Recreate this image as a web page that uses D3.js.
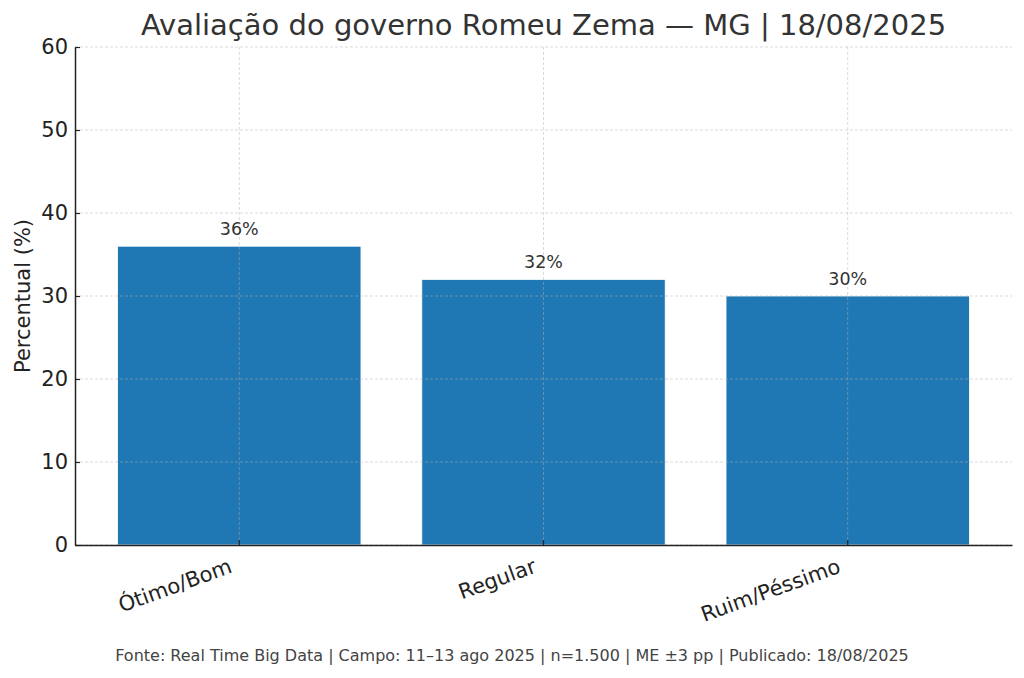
<!DOCTYPE html>
<html>
<head>
<meta charset="utf-8">
<script src="https://cdn.jsdelivr.net/npm/d3@7"></script>
<style>
  body { margin: 0; background: #fff; }
  text { font-family: "DejaVu Sans", sans-serif; }
</style>
</head>
<body>
<div id="chart"></div>
<script>
// data
const categories = ["Ótimo/Bom", "Regular", "Ruim/Péssimo"];
const values = [36, 32, 30];
const yTicks = [0, 10, 20, 30, 40, 50, 60];

const width = 1024, height = 678;
const margin = { top: 47, right: 12, bottom: 133, left: 75 };
const innerWidth = width - margin.left - margin.right;
const innerHeight = height - margin.top - margin.bottom;

const svg = d3.select("#chart")
  .append("svg")
    .attr("width", width)
    .attr("height", height);

// title
svg.append("text")
  .text("Avaliação do governo Romeu Zema — MG | 18/08/2025")
  .attr("x", margin.left + innerWidth / 2)
  .attr("y", 35)
  .attr("text-anchor", "middle")
  .attr("font-size", 29)
  .attr("fill", "#333");

const innerChart = svg.append("g")
  .attr("transform", `translate(${margin.left}, ${margin.top})`);

// scales
const xScale = d3.scaleBand()
  .domain(categories)
  .range([0, innerWidth])
  .paddingInner(0.2)
  .paddingOuter(0.14);

const yScale = d3.scaleLinear()
  .domain([0, 60])
  .range([innerHeight, 0]);

// bars
innerChart.selectAll("rect.bar")
  .data(values)
  .join("rect")
    .attr("class", "bar")
    .attr("x", (d, i) => xScale(categories[i]))
    .attr("y", d => yScale(d))
    .attr("width", xScale.bandwidth())
    .attr("height", d => innerHeight - yScale(d))
    .attr("fill", "#1f77b4")
    .attr("stroke", "#ffffff")
    .attr("stroke-width", 0.8);

// grid (drawn on top of bars)
innerChart.selectAll("line.hgrid")
  .data(yTicks)
  .join("line")
    .attr("class", "hgrid")
    .attr("x1", 0)
    .attr("x2", innerWidth)
    .attr("y1", d => yScale(d))
    .attr("y2", d => yScale(d))
    .attr("stroke", "#b0b0b0")
    .attr("stroke-opacity", 0.6)
    .attr("stroke-width", 0.8)
    .attr("stroke-dasharray", "3,2");

innerChart.selectAll("line.vgrid")
  .data(categories)
  .join("line")
    .attr("class", "vgrid")
    .attr("x1", d => xScale(d) + xScale.bandwidth() / 2)
    .attr("x2", d => xScale(d) + xScale.bandwidth() / 2)
    .attr("y1", 0)
    .attr("y2", innerHeight)
    .attr("stroke", "#b0b0b0")
    .attr("stroke-opacity", 0.6)
    .attr("stroke-width", 0.8)
    .attr("stroke-dasharray", "3,2");

// value labels
innerChart.selectAll("text.value")
  .data(values)
  .join("text")
    .attr("class", "value")
    .text(d => `${d}%`)
    .attr("x", (d, i) => xScale(categories[i]) + xScale.bandwidth() / 2)
    .attr("y", d => yScale(d) - 11)
    .attr("text-anchor", "middle")
    .attr("font-size", 17.5)
    .attr("fill", "#333");

// y axis (ticks pointing inward)
const leftAxis = d3.axisLeft(yScale)
  .tickValues(yTicks)
  .tickSizeInner(-5)
  .tickSizeOuter(0)
  .tickPadding(7);

const yAxisG = innerChart.append("g").call(leftAxis);
yAxisG.select(".domain").attr("stroke", "#222").attr("stroke-width", 1.5);
yAxisG.selectAll(".tick line").attr("stroke", "#222").attr("stroke-width", 1.2);
yAxisG.selectAll(".tick text")
  .attr("font-size", 21)
  .attr("fill", "#222")
  .attr("font-family", "DejaVu Sans, sans-serif");

// x axis
const bottomAxis = d3.axisBottom(xScale)
  .tickSizeInner(-5)
  .tickSizeOuter(0)
  .tickPadding(12);

const xAxisG = innerChart.append("g")
  .attr("transform", `translate(0, ${innerHeight})`)
  .call(bottomAxis);
xAxisG.select(".domain").attr("stroke", "#222").attr("stroke-width", 1.5);
xAxisG.selectAll(".tick line").attr("stroke", "#222").attr("stroke-width", 1.2);
xAxisG.selectAll(".tick text")
  .attr("font-size", 21)
  .attr("fill", "#222")
  .attr("font-family", "DejaVu Sans, sans-serif")
  .attr("text-anchor", "end")
  .attr("dy", null)
  .attr("y", 0)
  .attr("transform", "translate(-6, 27) rotate(-20)");

// y axis label
svg.append("text")
  .text("Percentual (%)")
  .attr("transform", `translate(30, ${margin.top + innerHeight / 2}) rotate(-90)`)
  .attr("text-anchor", "middle")
  .attr("font-size", 21)
  .attr("fill", "#222");

// footer
svg.append("text")
  .text("Fonte: Real Time Big Data | Campo: 11–13 ago 2025 | n=1.500 | ME ±3 pp | Publicado: 18/08/2025")
  .attr("x", width / 2)
  .attr("y", 661)
  .attr("text-anchor", "middle")
  .attr("font-size", 16)
  .attr("fill", "#444");
</script>
</body>
</html>
